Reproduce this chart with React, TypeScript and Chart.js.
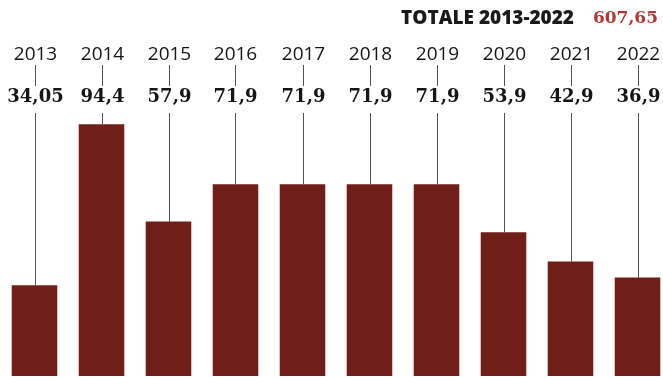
import React, { useEffect, useRef } from "react";
import { Chart, registerables } from "chart.js";

Chart.register(...registerables);

const years = ["2013", "2014", "2015", "2016", "2017", "2018", "2019", "2020", "2021", "2022"];
const values = [34.05, 94.4, 57.9, 71.9, 71.9, 71.9, 71.9, 53.9, 42.9, 36.9];
const valueLabels = ["34,05", "94,4", "57,9", "71,9", "71,9", "71,9", "71,9", "53,9", "42,9", "36,9"];
const titleText = "TOTALE 2013-2022";
const totalText = "607,65";

const OFFSET_X = 1;

const labelsPlugin = {
  id: "labelsPlugin",
  afterDatasetsDraw(chart: any) {
    const ctx = chart.ctx;
    const xs = chart.scales.x;
    const meta = chart.getDatasetMeta(0);
    ctx.save();
    // title
    ctx.textBaseline = "middle";
    ctx.textAlign = "right";
    ctx.fillStyle = "#b03a32";
    ctx.font = "bold 17px 'DejaVu Serif'";
    ctx.fillText(totalText, 658 - OFFSET_X, 19);
    ctx.fillStyle = "#1a1a1a";
    ctx.font = "800 19px 'Open Sans'";
    ctx.fillText(titleText, 574 - OFFSET_X, 19);

    years.forEach((y, i) => {
      const x = Math.round(xs.getPixelForValue(i)) + 0.5;
      const bar = meta.data[i];
      ctx.strokeStyle = "#555555";
      ctx.lineWidth = 1;
      ctx.beginPath();
      ctx.moveTo(x, 65);
      ctx.lineTo(x, 86);
      ctx.moveTo(x, 113);
      ctx.lineTo(x, bar.y);
      ctx.stroke();

      ctx.textAlign = "center";
      ctx.fillStyle = "#161616";
      ctx.font = "500 19px 'Open Sans'";
      ctx.fillText(y, x, 55);
      ctx.font = "bold 18px 'DejaVu Serif'";
      ctx.fillText(valueLabels[i], x, 97);
    });
    ctx.restore();
  },
};

export default function App() {
  const ref = useRef<HTMLCanvasElement>(null);
  useEffect(() => {
    if (!ref.current) return;
    const chart = new Chart(ref.current, {
      type: "bar",
      data: {
        labels: years,
        datasets: [
          {
            data: values,
            backgroundColor: "#701e18",
            borderWidth: 0,
            categoryPercentage: 1,
            barPercentage: 0.68,
          },
        ],
      },
      options: {
        animation: false,
        responsive: true,
        maintainAspectRatio: false,
        layout: { padding: 0 },
        plugins: { legend: { display: false }, tooltip: { enabled: false } },
        scales: {
          x: { display: false },
          y: { display: false, min: 0, max: 141 },
        },
      },
      plugins: [labelsPlugin],
    });
    return () => chart.destroy();
  }, []);
  return (
    <div style={{ position: "absolute", left: 0, top: 0, width: 663, height: 378, overflow: "hidden", background: "#fff" }}>
      <div style={{ position: "absolute", left: OFFSET_X, top: 0, width: 670, height: 376 }}>
        <canvas ref={ref} />
      </div>
    </div>
  );
}
